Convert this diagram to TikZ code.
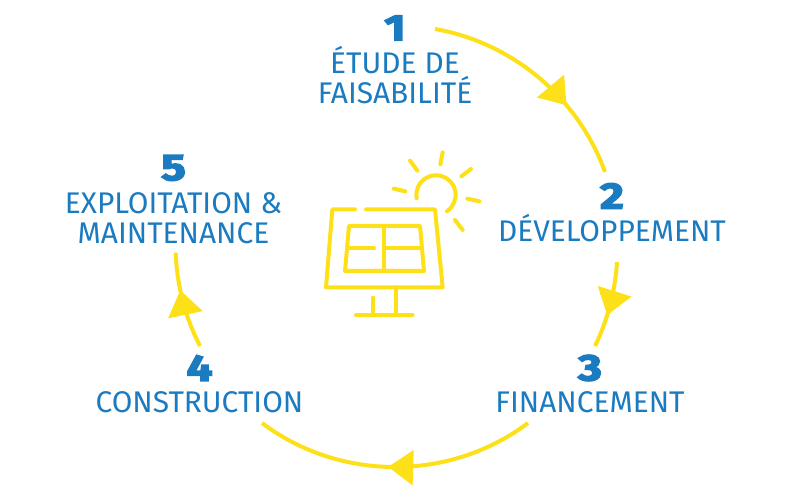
\documentclass[tikz,border=0pt]{standalone}
\usepackage{fontspec}
\setmainfont{Fira Sans}
\newfontfamily\numfont[FakeBold=4,FakeStretch=1.25]{Fira Sans}
\usepackage{xcolor}
\usetikzlibrary{decorations.markings,arrows.meta}
\definecolor{sunyellow}{HTML}{FDE018}
\definecolor{stepblue}{HTML}{1B7BC1}
\tikzset{
  lab/.style ={text=stepblue,font=\fontsize{17}{17}\selectfont,align=center,inner sep=0pt},
  num/.style ={text=stepblue,font=\numfont\bfseries\fontsize{21}{21}\selectfont,inner sep=0pt},
  flow/.style={draw=sunyellow,line width=0.08cm,postaction={decorate},
               decoration={markings,mark=at position #1 with
                 {\arrow{Triangle[length=0.5cm,width=0.69cm]}}}},
  icon/.style={draw=sunyellow,line width=0.08cm,line cap=round,line join=round},
}
\begin{document}
\begin{tikzpicture}
  \useasboundingbox (0,0) rectangle (16,10);
  % step labels
  \node [num] (n1) at (7.90,9.44) {1};
  \node [lab] (l1) at (7.90,8.50) {ÉTUDE DE\\FAISABILITÉ};
  \node [num] (n2) at (12.24,6.08) {2};
  \node [lab,anchor=base] (l2) at (12.24,5.17) {DÉVELOPPEMENT};
  \node [num] (n3) at (11.80,2.64) {3};
  \node [lab,anchor=base] (l3) at (11.80,1.74) {FINANCEMENT};
  \node [num] (n4) at (3.99,2.64) {4};
  \node [lab,anchor=base] (l4) at (3.99,1.74) {CONSTRUCTION};
  \node [num] (n5) at (3.47,6.64) {5};
  \node [lab] (l5) at (3.47,5.64) {EXPLOITATION \&\\MAINTENANCE};
  % arc ends
  \coordinate (a1) at (8.70,9.42);
  \coordinate (b1) at (12.10,6.56);
  \coordinate (a2) at (12.34,4.76);
  \coordinate (b2) at (11.90,3.08);
  \coordinate (a3) at (10.56,1.54);
  \coordinate (b3) at (5.24,1.54);
  \coordinate (a4) at (4.00,3.08);
  \coordinate (b4) at (3.514,4.946);
  \draw [flow=0.667] (a1) to [bend left=30,looseness=0.91] (b1);
  \draw [flow=0.62] (a2) to [bend left=11.25,looseness=0.85] (b2);
  \draw [flow=0.524] (a3) to [bend left=37,looseness=0.94] (b3);
  \draw [flow=0.61] (a4) to [bend left=12.75,looseness=0.85] (b4);
  % panel
  \draw [icon] (7.10,5.813) -- (6.647,5.813) -- (6.52,4.253) -- (8.853,4.253) -- (8.70,5.813) -- (7.32,5.813);
  \draw [icon] (6.98,5.48) -- (8.40,5.48) -- (8.48,4.58) -- (6.90,4.58) -- cycle;
  \draw [icon] (7.687,5.48) -- (7.687,4.58);
  \draw [icon] (6.95,5.033) -- (7.48,5.033);
  \draw [icon] (7.687,5.033) -- (8.433,5.033);
  \draw [icon] (7.913,4.253) -- (7.913,3.70);
  \draw [icon] (7.467,4.047) -- (7.467,3.70);
  \draw [icon] (7.12,3.70) -- (8.253,3.70);
  % sun
  \draw [icon] (8.333,6.033) arc [start angle=190,end angle=-56,radius=0.393];
  \draw [icon] (8.20,6.787) -- (8.347,6.587);
  \draw [icon] (8.853,6.953) -- (8.807,6.713);
  \draw [icon] (9.42,6.62) -- (9.227,6.473);
  \draw [icon] (9.347,6.027) -- (9.587,5.973);
  \draw [icon] (9.10,5.60) -- (9.253,5.40);
  \draw [icon] (7.873,6.227) -- (8.107,6.173);
\end{tikzpicture}
\end{document}
